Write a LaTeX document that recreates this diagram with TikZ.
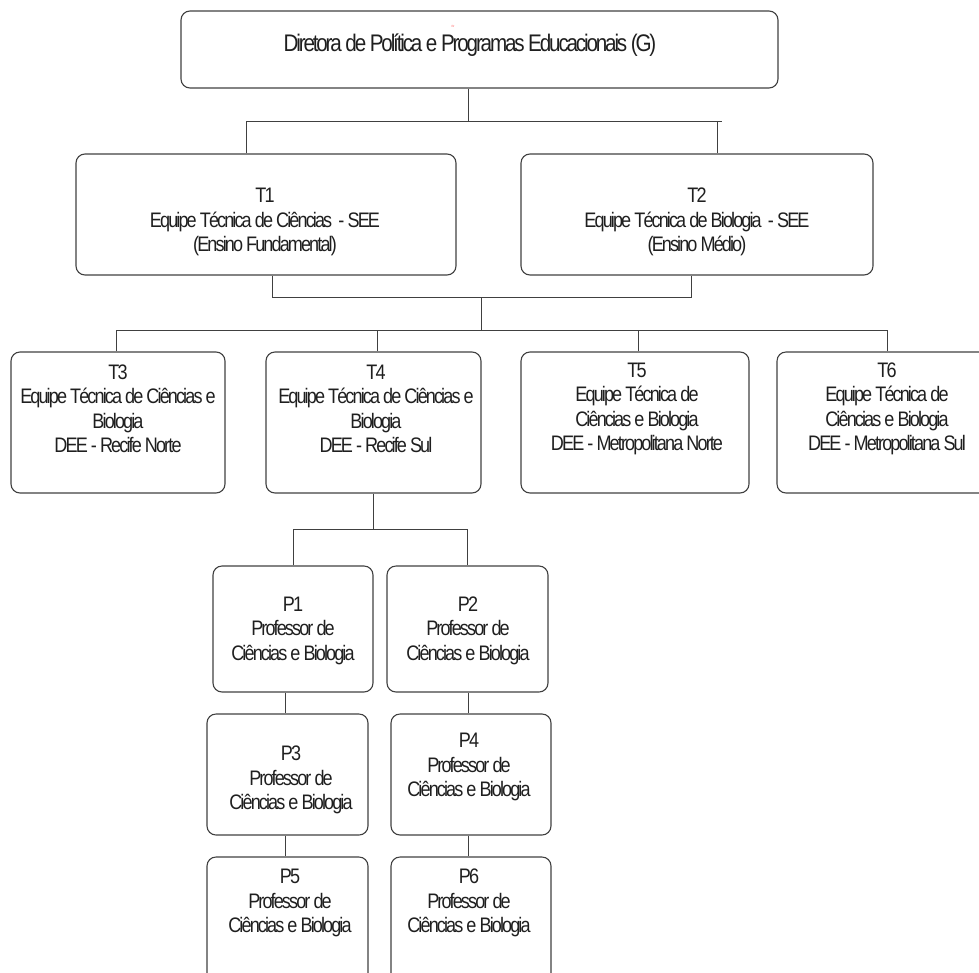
\documentclass[tikz,border=0pt]{standalone}
\usepackage{fontspec}
\setmainfont{Liberation Sans}[LetterSpace=-9, FakeStretch=0.86]
\begin{document}
\begin{tikzpicture}[x=1pt,y=-1pt,
  box/.style={draw=black!75, line width=1.1pt, rounded corners=9pt, inner sep=0pt},
  txt/.style={align=center, text=black!88, font=\fontsize{21}{24.5}\selectfont, inner sep=0pt},
  ln/.style={draw=black!75, line width=1pt}]
\useasboundingbox (0,0) rectangle (979,972);
\clip (0,0) rectangle (979,972);
% boxes
\node[box, minimum width=597pt, minimum height=77pt] (g) at (479.5,49.5) {};
\node[txt, font=\fontsize{24}{26}\selectfont] (gtxt) at (470,45) {Diretora de Política e Programas Educacionais (G)};
\node[text=red!60, font=\fontsize{3}{3}\selectfont, inner sep=0pt] (mark) at (453,26) {Err};
\node[box, minimum width=380pt, minimum height=121pt] (t1) at (266,214.5) {};
\node[txt] (t1txt) at (265,222) {T1\\Equipe Técnica de Ciências \ - SEE\\(Ensino Fundamental)};
\node[box, minimum width=352pt, minimum height=121pt] (t2) at (697,214.5) {};
\node[txt] (t2txt) at (697,222) {T2\\Equipe Técnica de Biologia \ - SEE\\(Ensino Médio)};
\node[box, minimum width=214pt, minimum height=141pt] (t3) at (118,422.5) {};
\node[txt] (t3txt) at (118,409) {T3\\Equipe Técnica de Ciências e\\Biologia\\DEE - Recife Norte};
\node[box, minimum width=215pt, minimum height=141pt] (t4) at (373.5,422.5) {};
\node[txt] (t4txt) at (376,409) {T4\\Equipe Técnica de Ciências e\\Biologia\\DEE - Recife Sul};
\node[box, minimum width=228pt, minimum height=141pt] (t5) at (635,422.5) {};
\node[txt] (t5txt) at (637,409) {T5\\Equipe Técnica de\\Ciências e Biologia\\DEE - Metropolitana Norte};
\node[box, minimum width=220pt, minimum height=141pt] (t6) at (887,422.5) {};
\node[txt] (t6txt) at (887,409) {T6\\Equipe Técnica de\\Ciências e Biologia\\DEE - Metropolitana Sul};
\node[box, minimum width=160pt, minimum height=126pt] (p1) at (293,629) {};
\node[txt] (p1txt) at (293,630.5) {P1\\Professor de\\Ciências e Biologia};
\node[box, minimum width=161pt, minimum height=126pt] (p2) at (467.5,629) {};
\node[txt] (p2txt) at (468,630.5) {P2\\Professor de\\Ciências e Biologia};
\node[box, minimum width=161pt, minimum height=121pt] (p3) at (287.5,774.5) {};
\node[txt] (p3txt) at (291,780) {P3\\Professor de\\Ciências e Biologia};
\node[box, minimum width=160pt, minimum height=121pt] (p4) at (471,774.5) {};
\node[txt] (p4txt) at (469,767) {P4\\Professor de\\Ciências e Biologia};
\node[box, minimum width=161pt, minimum height=128pt] (p5) at (287.5,921) {};
\node[txt] (p5txt) at (290,903) {P5\\Professor de\\Ciências e Biologia};
\node[box, minimum width=160pt, minimum height=128pt] (p6) at (471,921) {};
\node[txt] (p6txt) at (469,903) {P6\\Professor de\\Ciências e Biologia};
% junction points
\coordinate (a0) at (468,121);
\coordinate (a1) at (246,121);
\coordinate (a2) at (722,121);
\coordinate (a2v) at (717,121);
\coordinate (b1) at (272,297);
\coordinate (b2) at (691,297);
\coordinate (bm) at (481,297);
\coordinate (cm) at (481,330);
\coordinate (c3) at (116,330);
\coordinate (c4) at (377,330);
\coordinate (c5) at (638,330);
\coordinate (c6) at (887,330);
\coordinate (d0) at (373,529);
\coordinate (d1) at (293,529);
\coordinate (d2) at (467,529);
\coordinate (el) at (285,0);
\coordinate (er) at (468,0);
% connectors
\draw[ln] (a0 |- g.south) -- (a0);
\draw[ln] (a1 |- t1.north) -- (a1) -- (a2);
\draw[ln] (a2v) -- (a2v |- t2.north);
\draw[ln] (b1 |- t1.south) -- (b1) -- (b2) -- (b2 |- t2.south);
\draw[ln] (bm) -- (cm);
\draw[ln] (c3 |- t3.north) -- (c3) -- (c6) -- (c6 |- t6.north);
\draw[ln] (c4) -- (c4 |- t4.north);
\draw[ln] (c5) -- (c5 |- t5.north);
\draw[ln] (d0 |- t4.south) -- (d0);
\draw[ln] (d1 |- p1.north) -- (d1) -- (d2) -- (d2 |- p2.north);
\draw[ln] (el |- p1.south) -- (el |- p3.north);
\draw[ln] (er |- p2.south) -- (er |- p4.north);
\draw[ln] (el |- p3.south) -- (el |- p5.north);
\draw[ln] (er |- p4.south) -- (er |- p6.north);
\end{tikzpicture}
\end{document}
